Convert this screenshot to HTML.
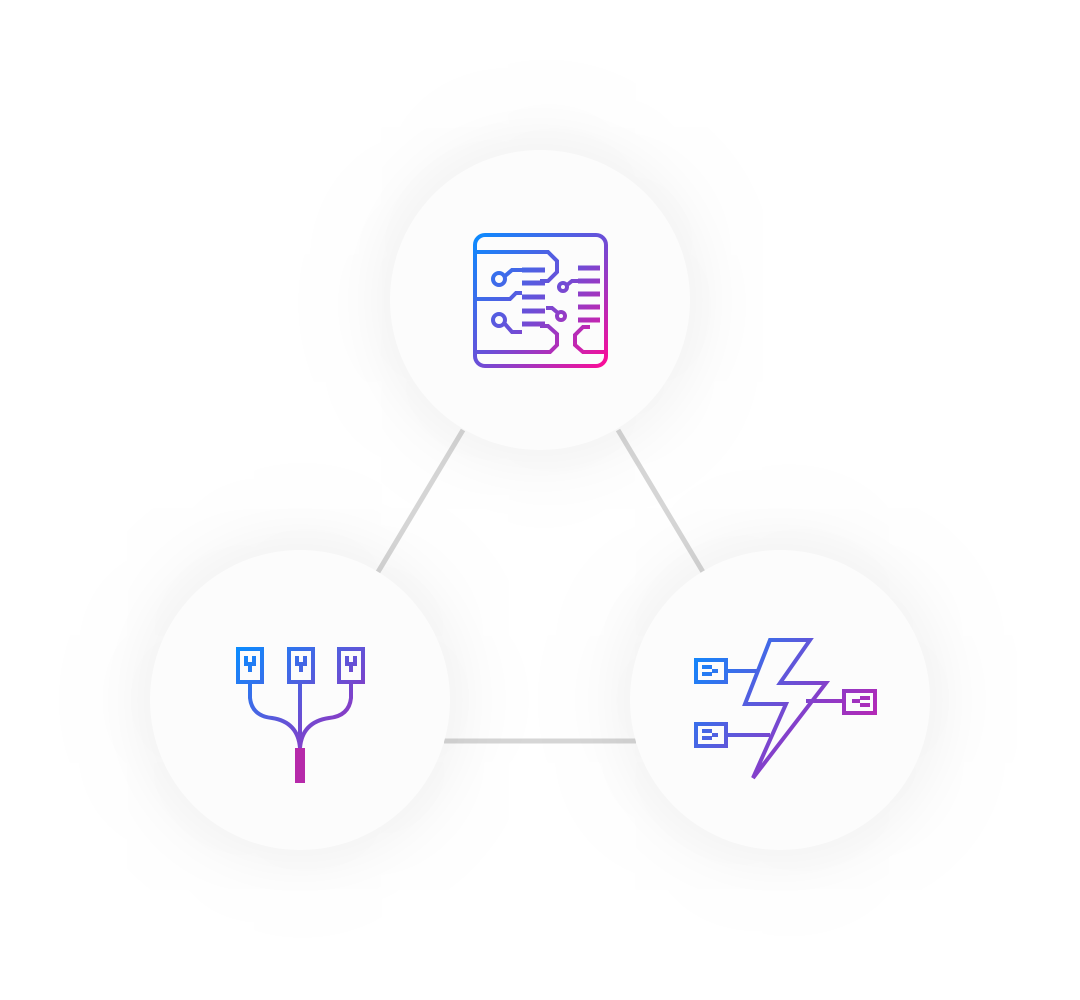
<!DOCTYPE html>
<html><head><style>
html,body{margin:0;padding:0;background:#fff;}
body{width:1080px;height:1000px;position:relative;overflow:hidden;}
.c{position:absolute;width:300px;height:300px;border-radius:50%;background:#fcfcfc;box-shadow:0 0 40px 20px rgba(0,0,0,0.03),0 0 120px 50px rgba(0,0,0,0.018);}
svg{position:absolute;left:0;top:0;}
</style></head><body>
<svg width="1080" height="1000" style="z-index:0">
<g stroke="#d6d6d6" stroke-width="5">
<line x1="463" y1="430" x2="378" y2="572"/>
<line x1="618" y1="430" x2="703" y2="572"/>
<line x1="444" y1="741" x2="636" y2="741"/>
</g></svg>
<div class="c" style="left:390px;top:150px"></div>
<div class="c" style="left:150px;top:550px"></div>
<div class="c" style="left:630px;top:550px"></div>
<svg width="1080" height="1000" style="z-index:2">
<defs>
<linearGradient id="g1" gradientUnits="userSpaceOnUse" x1="474" y1="234" x2="607" y2="367"><stop offset="0" stop-color="#0a8cff"/><stop offset="0.5" stop-color="#6a4fd8"/><stop offset="1" stop-color="#ff0a96"/></linearGradient>
<linearGradient id="g2" gradientUnits="userSpaceOnUse" x1="695" y1="640" x2="876" y2="780"><stop offset="0" stop-color="#0a8cff"/><stop offset="0.6" stop-color="#8a3cc8"/><stop offset="1" stop-color="#d41aa8"/></linearGradient>
<linearGradient id="g3" gradientUnits="userSpaceOnUse" x1="237" y1="648" x2="363" y2="783"><stop offset="0" stop-color="#0a8cff"/><stop offset="0.6" stop-color="#7a44cc"/><stop offset="1" stop-color="#c41aa8"/></linearGradient>
</defs>
<g fill="none" stroke="url(#g1)" stroke-width="4">
<rect x="475" y="235" width="131" height="131" rx="10"/>
<path d="M475 252 H548 L557 261 V272 L548 281 H540"/>
<path d="M475 299 H510 L516 293 H522"/>
<path d="M475 352 H550 L557 345 V334 L548 326 H540"/>
<path d="M606 352 H583 L575 345 V335 L583 327 H590"/>
<circle cx="499" cy="279" r="6"/><path d="M505 276 L512 270 H522"/>
<circle cx="499" cy="320" r="6"/><path d="M505 324 L512 332 H522"/>
<circle cx="563" cy="287" r="4"/><path d="M567 285 L572 281 H578"/>
<circle cx="561" cy="316" r="4"/><path d="M558 313 L552 308 H546"/>
</g>
<g stroke="url(#g1)" stroke-width="5" fill="none">
<path d="M522 270 H545 M522 283 H545 M522 297 H545 M522 311 H545 M522 324 H545 M578 268 H600 M578 281 H600 M578 294 H600 M578 307 H600 M578 320 H600"/>
</g>
<g fill="none" stroke="url(#g2)" stroke-width="4">
<path d="M770 640 H810 L780 683 H826 L753 778 L786 704 H745 Z"/>
<rect x="696" y="660" width="30" height="22"/><path d="M726 671 H758 M702 667 H712 M702 674 H712 M712 671 H718"/>
<rect x="696" y="724" width="30" height="22"/><path d="M726 735 H770 M702 731 H712 M702 738 H712 M712 735 H718"/>
<rect x="844" y="691" width="31" height="22"/><path d="M806 701 H844 M860 698 H870 M860 705 H870 M852 701 H860"/>
</g>
<g fill="none" stroke="url(#g3)" stroke-width="4">
<rect x="238" y="649" width="24" height="33"/><rect x="289" y="649" width="24" height="33"/><rect x="339" y="649" width="24" height="33"/>
<path d="M246 656 V664 H254 V656 M250 664 V672 M297 656 V664 H305 V656 M301 664 V672 M347 656 V664 H355 V656 M351 664 V672"/>
<path d="M250 682 V698 Q252 716 272 718 Q298 722 300 748"/>
<path d="M351 682 V698 Q349 716 329 718 Q302 722 300 748"/>
<path d="M300 682 V750"/>
</g>
<rect x="295" y="748" width="10" height="35" fill="#b62aaa"/>
</svg>
</body></html>
